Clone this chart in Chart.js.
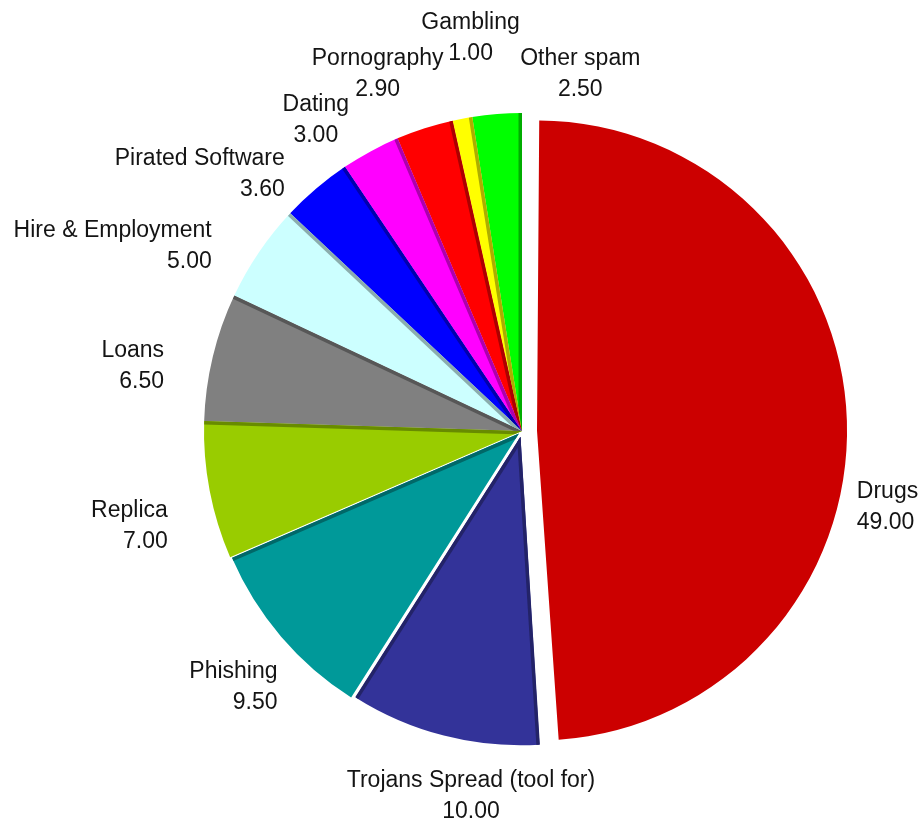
<!DOCTYPE html>
<html>
<head>
<meta charset="utf-8">
<title>Spam by category</title>
<script src="https://cdn.jsdelivr.net/npm/chart.js@4/dist/chart.umd.min.js"></script>
<style>
  body { margin: 0; background: #fff; }
  canvas { display: block; }
</style>
</head>
<body>
<canvas id="spamPie" width="924" height="820"></canvas>
<script>
const categories = ['Drugs', 'Trojans Spread (tool for)', 'Phishing', 'Replica', 'Loans',
    'Hire & Employment', 'Pirated Software', 'Dating', 'Pornography', 'Gambling', 'Other spam'];
const shares = [49.0, 10.0, 9.5, 7.0, 6.5, 5.0, 3.6, 3.0, 2.9, 1.0, 2.5];

const sliceColors = ['#cc0000', '#333399', '#009999', '#99cc00', '#808080',
    '#ccffff', '#0000ff', '#ff00ff', '#ff0000', '#ffff00', '#00ff00'];
// pulled-out slices (chart.js moves an arc by offset / 4)
const sliceOffsets = [60, 24, 16, 0, 0, 0, 0, 0, 0, 0, 0];
// pulled-out slices are drawn a little smaller than the rest of the pie
const sliceInset = [22, 12, 7, 0, 0, 0, 0, 0, 0, 0, 0];
// which radial edges get the darker side face
const shadeStart = [false, true, false, false, false, false, false, false, false, false, false];
const shadeEnd = [false, true, true, true, true, true, true, true, true, true, true];
// hand placement of the outside labels, relative to where the arc puts them
const labelNudge = [[-8, 85], [32, 12], [8, 38], [-32, 32], [-39, 10], [-39, -3],
    [-25, 18], [-50, 2], [-44, -20], [10, -46], [84, -5]];

function darken(hex, f) {
    const n = parseInt(hex.slice(1), 16);
    const r = Math.round(((n >> 16) & 255) * f);
    const g = Math.round(((n >> 8) & 255) * f);
    const b = Math.round((n & 255) * f);
    return 'rgb(' + r + ',' + g + ',' + b + ')';
}

// where chart.js actually paints an arc (offset shift and radius growth included)
function arcGeom(arc) {
    const p = arc.getProps(['x', 'y', 'startAngle', 'endAngle', 'outerRadius', 'circumference'], true);
    const off = (arc.options.offset || 0) / 4;
    const mid = (p.startAngle + p.endAngle) / 2;
    const fix = 1 - Math.sin(Math.min(Math.PI, p.circumference || 0));
    return {
        cx: p.x + Math.cos(mid) * off,
        cy: p.y + Math.sin(mid) * off,
        mid: mid, start: p.startAngle, end: p.endAngle,
        r: p.outerRadius + off * fix
    };
}

const shrinkSlices = {
    id: 'shrinkSlices',
    afterDatasetUpdate(chart, args) {
        args.meta.data.forEach((arc, i) => {
            arc.outerRadius = args.meta.controller.outerRadius - sliceInset[i];
        });
    }
};

// darker strip along the radial edges of the slices
const edgeShade = {
    id: 'edgeShade',
    afterDatasetsDraw(chart) {
        const ctx = chart.ctx;
        chart.getDatasetMeta(0).data.forEach((arc, i) => {
            const a = arcGeom(arc);
            const edges = [];
            if (shadeStart[i]) edges.push(a.start);
            if (shadeEnd[i]) edges.push(a.end);
            if (!edges.length) return;
            ctx.save();
            ctx.beginPath();
            ctx.moveTo(a.cx, a.cy);
            ctx.arc(a.cx, a.cy, a.r, a.start, a.end);
            ctx.closePath();
            ctx.clip();
            ctx.strokeStyle = darken(sliceColors[i], 0.68);
            ctx.lineWidth = 7;
            edges.forEach(ang => {
                ctx.beginPath();
                ctx.moveTo(a.cx, a.cy);
                ctx.lineTo(a.cx + Math.cos(ang) * a.r, a.cy + Math.sin(ang) * a.r);
                ctx.stroke();
            });
            ctx.restore();
        });
    }
};

// name + value written outside every slice
const outsideLabels = {
    id: 'outsideLabels',
    afterDraw(chart) {
        const ctx = chart.ctx;
        const meta = chart.getDatasetMeta(0);
        const baseR = meta.controller.outerRadius;
        ctx.save();
        ctx.font = '23px "Liberation Sans", Arial, sans-serif';
        ctx.fillStyle = '#141414';
        ctx.textBaseline = 'alphabetic';
        meta.data.forEach((arc, i) => {
            const a = arcGeom(arc);
            const dist = baseR + 10;
            const sx = Math.cos(a.mid), sy = Math.sin(a.mid);
            let x = a.cx + sx * dist;
            let y = a.cy + sy * dist;
            let base;
            if (sy < -0.7) base = y - 34;
            else if (sy > 0.7) base = y + 20;
            else base = y - 7;
            ctx.textAlign = Math.abs(sx) < 0.5 ? 'center' : (sx > 0 ? 'left' : 'right');
            x += labelNudge[i][0];
            base += labelNudge[i][1];
            ctx.fillText(categories[i], x, base);
            ctx.fillText(shares[i].toFixed(2), x, base + 31);
        });
        ctx.restore();
    }
};

const chartConfig = {
    type: 'pie',
    data: {
        labels: categories,
        datasets: [{
            data: shares,
            backgroundColor: sliceColors,
            offset: sliceOffsets,
            borderWidth: 0
        }]
    },
    options: {
        responsive: false,
        animation: false,
        radius: 318,
        layout: { padding: { left: 120, right: 0, top: 42, bottom: 0 } },
        plugins: {
            legend: { display: false },
            tooltip: { enabled: false }
        }
    },
    plugins: [shrinkSlices, edgeShade, outsideLabels]
};

let chartID = document.getElementById('spamPie');
let chart = new Chart(chartID, chartConfig);
</script>
</body>
</html>
